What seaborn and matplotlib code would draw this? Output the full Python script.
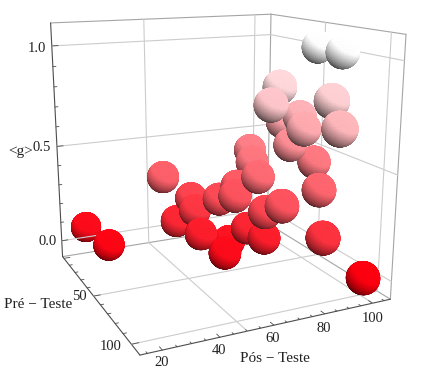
import numpy as np
import matplotlib
matplotlib.use('Agg')
import matplotlib.pyplot as plt
import seaborn as sns

# Pos-teste, pre-teste and normalised gain of each student group
pos_teste = [102.1, 102.1, 79.4, 74.1, 88.2, 86.3, 88.4, 84.8, 89.3, 86.4, 94.2,
             87.9, 78.3, 74.8, 73.7, 46.1, 56.0, 56.2, 50.1, 56.1, 62.0, 68.6,
             65.7, 66.1, 61.9, 72.0, 75.7, 72.5, 75.4, 23.2, 27.1, 86.2, 100.4]
pre_teste = [55.0, 75.4, 69.0, 73.0, 93.9, 104.1, 68.3, 79.2, 50.5, 64.3, 70.0,
             86.9, 44.1, 54.5, 63.0, 31.8, 36.6, 40.6, 35.9, 47.6, 52.1, 54.3,
             59.4, 52.4, 58.7, 56.8, 65.1, 72.8, 81.5, -3.9, 18.2, 94.6, 101.1]
ganho = [1.0, 1.0, .85, .78, .82, .72, .70, .67, .64, .56, .48,
         .40, .50, .47, .42, .38, .27, .22, .16, .12, .30, .36,
         .33, .08, .05, .15, .12, .28, .33, .05, .02, .20, 0.0]

x_ticks = [20, 40, 60, 80, 100]
y_ticks = [50, 100]
z_ticks = [0.0, 0.5, 1.0]

x_lo, x_hi = 12.56, 107.74
y_lo, y_hi = -2.58, 109.60
z_lo, z_hi = -0.087, 1.11
elev, azim, focal = 14.62, -115.43, 0.35
a_x, a_z = 1.049, 1.039
W, H = 423, 376

sns.set_style('white')
plt.rcParams['font.family'] = 'Liberation Serif'

fig = plt.figure(figsize=(W / 100, H / 100), dpi=100)
ax = fig.add_axes([-3.28 / W, (H - 376.58) / H, 426.88 / W, 426.88 / H], projection='3d')
ax.set_axis_off()
ax.view_init(elev=elev, azim=azim)
ax.set_proj_type('persp', focal_length=focal)
ax.set_box_aspect((a_x, 1, a_z))
ax.set_xlim(x_lo, x_hi)
ax.set_ylim(y_hi, y_lo)
ax.set_zlim(z_lo, z_hi)

gray = '#cccccc'
edge = '#a5a5a5'
dark = '#4d4d4d'


def seg(p0, p1, c=gray, lw=0.8):
    ax.plot([p0[0], p1[0]], [p0[1], p1[1]], [p0[2], p1[2]], color=c, lw=lw)


# Box edges
seg((x_lo, y_lo, z_hi), (x_hi, y_lo, z_hi), edge)
seg((x_hi, y_lo, z_hi), (x_hi, y_hi, z_hi), edge)
seg((x_hi, y_lo, z_lo), (x_hi, y_lo, z_hi), edge)
seg((x_hi, y_hi, z_lo), (x_hi, y_hi, z_hi), edge)
seg((x_lo, y_lo, z_lo), (x_hi, y_lo, z_lo), edge)
seg((x_hi, y_lo, z_lo), (x_hi, y_hi, z_lo), edge)
seg((x_lo, y_lo, z_lo), (x_lo, y_lo, z_hi), dark)
seg((x_lo, y_lo, z_lo), (x_lo, y_hi, z_lo), dark)
seg((x_lo, y_hi, z_lo), (x_hi, y_hi, z_lo), dark)

# Grid on the floor and the two back walls
for v in [50, 100]:
    seg((v, y_lo, z_lo), (v, y_lo, z_hi))
    seg((v, y_lo, z_lo), (v, y_hi, z_lo))
    seg((x_lo, v, z_lo), (x_hi, v, z_lo))
    seg((x_hi, v, z_lo), (x_hi, v, z_hi))
for v in z_ticks:
    seg((x_lo, y_lo, v), (x_hi, y_lo, v))
    seg((x_hi, y_lo, v), (x_hi, y_hi, v))

# Ticks
for v in range(15, 106, 5):
    size = 3.0 if v % 20 == 0 else 1.5
    seg((v, y_hi, z_lo), (v, y_hi - size, z_lo), dark, 0.6)
for v in range(0, 106, 10):
    size = 2.5 if v % 50 == 0 else 1.2
    seg((x_lo, v, z_lo), (x_lo + size, v, z_lo), dark, 0.6)
for v in np.arange(0, 1.01, 0.1):
    size = 2.5 if round(v * 10) % 5 == 0 else 1.2
    seg((x_lo, y_lo, v), (x_lo + size, y_lo, v), dark, 0.6)

# Spheres: shaded from a light above and to the right of the camera
cmap = sns.blend_palette(['#ff0010', '#ffffff'], as_cmap=True)
az = np.radians(azim)
el = np.radians(elev)
eye = np.array([np.cos(el) * np.cos(az), np.cos(el) * np.sin(az), np.sin(el)])
right = np.cross([0, 0, 1], eye)
right /= np.linalg.norm(right)
up = np.cross(eye, right)
light = 0.35 * right + 0.7 * up + 0.5 * eye
light /= np.linalg.norm(light)

R = 0.066
u = np.linspace(0, 2 * np.pi, 49)
v = np.linspace(0, np.pi, 33)
nx = np.outer(np.cos(u), np.sin(v))
ny = np.outer(np.sin(u), np.sin(v))
nz = np.outer(np.ones_like(u), np.cos(v))
shade = 0.5 + 0.5 * (nx * light[0] + ny * light[1] + nz * light[2])
intensity = np.clip(0.2 + 1.1 * shade, 0, 1)

for xv, yv, gv in zip(pos_teste, pre_teste, ganho):
    base = np.array(cmap(float(gv)))[:3]
    colors = np.dstack([base[i] * intensity for i in range(3)] + [np.ones_like(intensity)])
    X = xv + R * nx / a_x * (x_hi - x_lo)
    Y = yv - R * ny * (y_hi - y_lo)
    Z = gv + R * nz / a_z * (z_hi - z_lo)
    ax.plot_surface(X, Y, Z, facecolors=colors, shade=False, rstride=1, cstride=1, linewidth=0.4)


def label(px, py, s, size=10.5):
    fig.text(px / W, 1 - py / H, s, ha='center', va='center', fontsize=size, color='#222222')


for t, (px, py) in zip(x_ticks, [(162, 362), (219, 350), (273, 339), (324, 329), (373, 319)]):
    label(px, py, str(t))
for t, (px, py) in zip(y_ticks, [(79, 297), (111, 346)]):
    label(px, py, str(t))
for t, (px, py) in zip(z_ticks, [(48, 242), (42, 148), (37, 48)]):
    label(px, py, '%.1f' % t)
label(38, 304, 'Pré − Teste', 11)
label(275, 358, 'Pós − Teste', 11)
label(21, 151, '<g>', 11)

fig.savefig('out.png', dpi=100)
